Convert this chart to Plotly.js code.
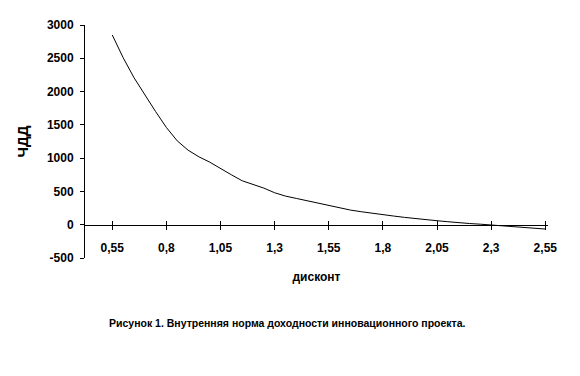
<!DOCTYPE html>
<html>
<head>
<meta charset="utf-8">
<script src="https://cdn.plot.ly/plotly-3.0.1.min.js"></script>
<style>html,body{margin:0;padding:0;background:#fff;}#chart{width:580px;height:376px;}</style>
</head>
<body>
<div id="chart"></div>
<script>
// discount rate (x) and NPV (ЧДД) values
const discount = [0.55,0.60,0.65,0.70,0.75,0.80,0.85,0.90,0.95,1.00,1.05,1.10,1.15,1.20,1.25,1.30,1.35,1.40,1.45,1.50,1.55,1.60,1.65,1.70,1.75,1.80,1.85,1.90,1.95,2.00,2.05,2.10,2.15,2.20,2.25,2.30,2.35,2.40,2.45,2.50,2.55];
const npv = [2850,2510,2210,1950,1700,1460,1260,1120,1020,940,840,750,660,610,550,480,430,395,360,320,285,250,220,195,170,150,130,110,90,75,60,45,28,18,8,-5,-20,-35,-45,-55,-65];
const xTickVals = [0.55,0.8,1.05,1.3,1.55,1.8,2.05,2.3,2.55];
const xTickText = ["0,55","0,8","1,05","1,3","1,55","1,8","2,05","2,3","2,55"];
const yTickVals = [-500,0,500,1000,1500,2000,2500,3000];
const yTickText = ["-500","0","500","1000","1500","2000","2500","3000"];

const yMin = -500, yMax = 3000;
const zeroPos = (0 - yMin) / (yMax - yMin);
const xRange = [0.424, 2.5625];
const fontFam = '"Liberation Sans", Arial, sans-serif';

const trace = {
  x: discount, y: npv, type: 'scatter', mode: 'lines',
  line: {color: '#000', width: 1}, hoverinfo: 'skip'
};
const traceTop = {x: [], y: [], xaxis: 'x2', yaxis: 'y', type: 'scatter', mode: 'lines', showlegend: false};

const layout = {
  width: 580, height: 376,
  margin: {l: 85, r: 32, t: 25, b: 118},
  paper_bgcolor: '#fff', plot_bgcolor: '#fff',
  showlegend: false,
  font: {family: fontFam, color: '#000'},
  xaxis: {
    range: xRange, anchor: 'free', position: zeroPos,
    tickvals: xTickVals, ticktext: xTickText,
    ticks: 'outside', ticklen: 4, tickwidth: 1, tickcolor: '#000',
    showline: true, linecolor: '#000', linewidth: 1,
    showgrid: false, zeroline: false,
    tickfont: {family: fontFam, size: 12, color: '#000', weight: 'bold'},
    ticklabelstandoff: 8,
    title: {text: 'дисконт', font: {family: fontFam, size: 12, color: '#000', weight: 'bold'}, standoff: 18}
  },
  xaxis2: {
    range: xRange, overlaying: 'x', anchor: 'free', position: zeroPos,
    tickvals: xTickVals, showticklabels: false,
    ticks: 'inside', ticklen: 4, tickwidth: 1, tickcolor: '#000',
    showline: false, showgrid: false, zeroline: false
  },
  yaxis: {
    range: [yMin, yMax],
    tickvals: yTickVals, ticktext: yTickText,
    ticks: 'outside', ticklen: 4, tickwidth: 1, tickcolor: '#000',
    showline: true, linecolor: '#000', linewidth: 1,
    showgrid: false, zeroline: false,
    tickfont: {family: fontFam, size: 12, color: '#000', weight: 'bold'},
    ticklabelstandoff: 4,
    title: {text: 'ЧДД', font: {family: fontFam, size: 15, color: '#000', weight: 'bold'}, standoff: 14}
  },
  annotations: [{
    text: 'Рисунок 1. Внутренняя норма доходности инновационного проекта.',
    xref: 'paper', yref: 'paper', x: 0.438, y: -0.279,
    xanchor: 'center', yanchor: 'middle', showarrow: false,
    font: {family: fontFam, size: 10.5, color: '#000', weight: 'bold'}
  }]
};

Plotly.newPlot('chart', [trace, traceTop], layout, {displayModeBar: false, staticPlot: true});
</script>
</body>
</html>
